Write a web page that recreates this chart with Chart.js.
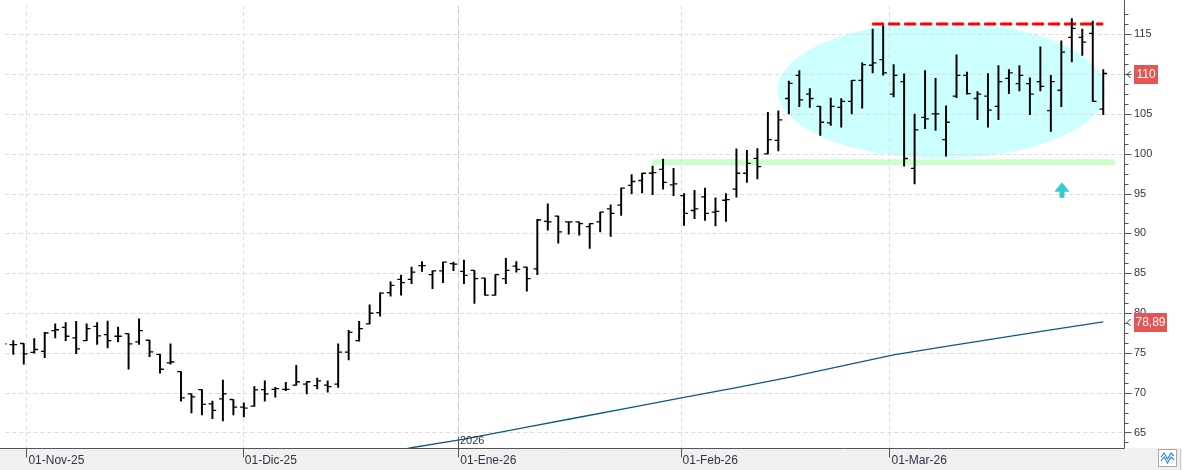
<!DOCTYPE html>
<html><head><meta charset="utf-8">
<script src="https://cdn.jsdelivr.net/npm/chart.js@4/dist/chart.umd.min.js"></script>
<style>html,body{margin:0;padding:0;background:#fff;overflow:hidden}#wrap{position:relative;width:1182px;height:470px}</style>
</head><body><div id="wrap"><canvas id="c" width="1182" height="470"></canvas></div>
<script>
// ---- data (one entry per trading session) ----
const opens = [76.3,76.04,76.17,75.05,75.17,77.78,78.19,76.87,76.54,78.32,
77.28,77.08,77.41,76.37,76.58,74.80,73.73,72.65,69.84,70.38,
68.60,69.22,69.14,68.19,68.31,70.38,70.42,70.42,70.95,71.08,
70.87,70.95,71.08,75.09,76.54,78.64,80.05,82.57,84.23,84.23,
85.96,84.81,85.30,86.21,85.22,85.34,84.39,82.24,84.31,85.88,
85.76,85.55,91.51,92.17,91.43,91.43,90.85,91.43,93.08,93.54,
96.02,96.64,97.55,98.04,96.10,94.74,92.87,94.57,92.67,94.16,
95.56,97.55,99.41,99.98,101.68,106.93,109.83,107.47,105.94,103.87,
105.81,106.56,109.21,111.11,111.81,107.47,109.04,98.16,104.57,104.99,
101.76,107.22,109.83,106.93,107.22,105.94,109.45,108.79,108.79,109.04,
105.40,107.97,114.62,114.62,115.12,105.61];
const highs = [76.6,76.54,76.17,76.79,77.57,78.65,78.81,78.94,78.65,78.81,
78.98,78.23,77.41,79.27,76.58,74.80,76.12,72.65,69.84,70.38,
68.93,71.58,69.14,68.72,70.75,71.49,70.67,71.29,73.44,71.37,
71.82,71.49,76.12,77.82,78.94,81.04,82.53,83.90,84.77,85.76,
86.46,85.30,86.38,86.38,86.63,85.34,84.39,84.81,86.87,86.46,
85.76,91.76,93.70,92.17,91.43,91.43,91.22,92.67,93.58,95.69,
97.38,97.55,98.46,99.33,98.17,94.98,95.40,95.69,94.45,94.98,
100.61,100.44,100.65,105.2,105.4,109.12,110.45,108.17,105.94,106.97,
106.93,109.21,111.40,115.66,116.07,111.19,110.03,104.99,110.45,109.45,
106.02,112.43,110.24,107.80,110.07,111.07,110.57,111.07,109.54,113.42,
109.83,114.17,116.98,115.66,116.65,110.57];
const lows = [75.6,74.80,73.56,74.97,74.39,76.87,76.54,74.88,76.54,76.04,
75.63,76.37,72.94,76.04,74.51,72.44,73.56,68.93,67.44,67.19,
66.74,66.45,67.19,66.94,68.31,68.93,69.43,70.25,70.95,69.84,
70.46,70.05,70.67,74.10,76.46,78.64,79.60,82.12,82.24,83.69,
85.22,83.07,83.81,85.30,83.69,81.21,82.24,82.24,83.69,85.14,
82.74,84.81,90.39,88.78,89.90,89.77,88.12,90.19,89.61,92.25,
94.98,95.07,94.86,95.56,94.74,91.01,91.84,91.63,90.93,91.51,
94.53,96.39,96.84,99.98,100.35,104.99,105.90,105.81,102.30,103.54,
103.33,104.99,105.73,110.16,109.87,107.13,98.45,96.22,103.13,102.92,
99.69,107.05,107.47,104.28,103.33,104.28,107.55,107.88,104.90,107.88,
102.80,105.90,111.52,112.35,106.56,104.90];
const closes = [76.12,76.04,74.88,75.42,77.49,77.90,77.08,75.50,78.03,77.12,
76.54,77.08,76.12,77.78,75.13,72.94,73.85,69.34,69.47,68.52,
67.77,69.84,68.19,68.06,70.34,69.84,70.50,70.42,71.37,71.37,
71.49,70.75,75.09,77.57,78.03,79.97,82.49,83.48,83.81,85.14,
85.96,85.30,86.38,86.13,84.72,84.31,82.24,84.81,85.34,85.47,
84.31,91.68,91.43,90.19,91.43,91.22,91.22,92.67,92.50,95.69,
96.51,97.55,97.63,96.39,96.22,92.50,93.08,92.50,92.75,94.24,
97.55,98.79,98.38,101.76,104.24,108.83,106.76,106.93,103.95,105.94,
106.56,109.21,111.19,111.40,110.16,109.83,99.40,103.00,104.37,104.99,
103.95,109.83,107.55,107.47,105.48,109.04,110.16,109.83,107.47,108.46,
109.04,112.76,115.74,114.00,106.56,110.07];

// moving average line, read at these sessions
const maIndex  = [38, 39, 44, 50, 55, 60, 65, 70, 75, 80, 85, 90, 95, 100, 105];
const maValues = [62.84, 63.08, 64.17, 65.67, 66.91, 68.15, 69.40, 70.62, 71.92, 73.34, 74.74, 75.81, 76.85, 77.88, 78.89];

// axis ticks
const dateTickIndex  = [2.30, 22.95, 43.51, 64.72, 84.65];
const dateTickLabels = ['01-Nov-25', '01-Dic-25', '01-Ene-26', '01-Feb-26', '01-Mar-26'];
const yearTickPos = 2;          // which date tick carries the year separator
const yearLabel = '2026';
const priceTicks = [65, 70, 75, 80, 85, 90, 95, 100, 105, 110, 115];

// drawn studies (in session / price units)
const zoneCenter = [89.55, 107.97];     // session, price
const zoneHalf   = [15.62, 8.56];
const supportBand = [98.55, 99.30];
const supportSpan = [61.97, 106.13];
const resistanceLevel = 116.3;
const resistanceSpan = [82.95, 105.0];
const arrowTip = [101.06, 96.43];
const lastLabel = '110';
const maLabel = '78,89';

// ---- build datasets from the arrays ----
const hl = highs.map((h, i) => ({x: i, y: [lows[i], h]}));
const TICK = 0.18;
const openPts = opens.map((o, i) => ({x: i - TICK, y: o}));
const closePts = closes.map((c, i) => ({x: i + TICK, y: c}));
const maPts = maIndex.map((x, k) => ({x, y: maValues[k]}));

const AX = '#555555';
const noPad = s => { s.paddingTop = 0; s.paddingBottom = 0; s.paddingLeft = 0; s.paddingRight = 0; };
const decor = {
  id: 'decor',
  beforeDraw(chart) {
    const {ctx, width, height} = chart;
    const xs = chart.scales.x;
    ctx.save();
    ctx.fillStyle = '#ffffff'; ctx.fillRect(0, 0, width, height);
    ctx.fillStyle = '#f0f0f0'; ctx.fillRect(0, xs.top, width, height - xs.top);
    ctx.restore();
  },
  beforeDatasetsDraw(chart) {
    const {ctx, chartArea: a} = chart;
    const xs = chart.scales.x, ys = chart.scales.y;
    ctx.save();
    ctx.beginPath(); ctx.rect(a.left, a.top, a.right - a.left, a.bottom - a.top); ctx.clip();
    // zone ellipse
    const cx = xs.getPixelForValue(zoneCenter[0]), cy = ys.getPixelForValue(zoneCenter[1]);
    const rx = xs.getPixelForValue(zoneCenter[0] + zoneHalf[0]) - cx;
    const ry = ys.getPixelForValue(zoneCenter[1] - zoneHalf[1]) - cy;
    ctx.fillStyle = '#ccffff';
    ctx.beginPath(); ctx.ellipse(cx, cy, rx, ry, 0, 0, Math.PI * 2); ctx.fill();
    // support band
    const sx1 = xs.getPixelForValue(supportSpan[0]), sx2 = xs.getPixelForValue(supportSpan[1]);
    const sy1 = ys.getPixelForValue(supportBand[1]), sy2 = ys.getPixelForValue(supportBand[0]);
    ctx.fillStyle = '#ccffcc';
    ctx.fillRect(sx1, sy1, sx2 - sx1, sy2 - sy1);
    // horizontal grid
    ctx.lineWidth = 1;
    ctx.strokeStyle = '#dcdcdc'; ctx.setLineDash([4, 3]);
    priceTicks.forEach(v => {
      const y = Math.round(ys.getPixelForValue(v)) + 0.5;
      ctx.beginPath(); ctx.moveTo(a.left, y); ctx.lineTo(a.right, y); ctx.stroke();
    });
    // vertical grid
    dateTickIndex.forEach((v, k) => {
      const x = Math.floor(xs.getPixelForValue(v)) + 0.5;
      if (k === yearTickPos) { ctx.strokeStyle = '#cccccc'; ctx.setLineDash([9, 3]); }
      else { ctx.strokeStyle = '#dcdcdc'; ctx.setLineDash([4, 3]); }
      ctx.beginPath(); ctx.moveTo(x, a.top); ctx.lineTo(x, a.bottom); ctx.stroke();
    });
    // resistance dashed line
    ctx.setLineDash([12, 4]);
    ctx.strokeStyle = '#ff0000'; ctx.lineWidth = 3;
    const ry0 = ys.getPixelForValue(resistanceLevel);
    ctx.beginPath();
    ctx.moveTo(xs.getPixelForValue(resistanceSpan[0]), ry0);
    ctx.lineTo(xs.getPixelForValue(resistanceSpan[1]), ry0);
    ctx.stroke();
    ctx.restore();
  },
  afterDraw(chart) {
    const {ctx, chartArea: a} = chart;
    const xs = chart.scales.x, ys = chart.scales.y;
    ctx.save();
    // arrow
    const tx = xs.getPixelForValue(arrowTip[0]), ty = ys.getPixelForValue(arrowTip[1]);
    ctx.fillStyle = '#33cccc';
    ctx.beginPath();
    ctx.moveTo(tx, ty); ctx.lineTo(tx + 7.5, ty + 9.5); ctx.lineTo(tx + 2.5, ty + 9.5);
    ctx.lineTo(tx + 2.5, ty + 15.5); ctx.lineTo(tx - 2.5, ty + 15.5); ctx.lineTo(tx - 2.5, ty + 9.5);
    ctx.lineTo(tx - 7.5, ty + 9.5); ctx.closePath(); ctx.fill();
    // axis lines
    ctx.strokeStyle = AX; ctx.lineWidth = 1; ctx.setLineDash([]);
    const bx = Math.round(a.right) + 0.5, by = Math.round(a.bottom) + 0.5;
    ctx.beginPath(); ctx.moveTo(0, by); ctx.lineTo(bx, by); ctx.stroke();
    ctx.beginPath(); ctx.moveTo(bx, 0); ctx.lineTo(bx, by); ctx.stroke();
    // price ticks: major every 5, minor every 1.25
    for (let k = 0; k <= 48; k++) {
      const v = 60 + k * 1.25;
      const y = Math.round(ys.getPixelForValue(v)) + 0.5;
      if (y < a.top || y > a.bottom) continue;
      const len = (k % 4 === 0) ? 7 : 4;
      ctx.beginPath(); ctx.moveTo(bx, y); ctx.lineTo(bx + len, y); ctx.stroke();
    }
    // date ticks
    dateTickIndex.forEach(v => {
      const x = Math.floor(xs.getPixelForValue(v)) + 0.5;
      ctx.beginPath(); ctx.moveTo(x, by); ctx.lineTo(x, by + 9); ctx.stroke();
    });
    // year separator label
    const yx = Math.floor(xs.getPixelForValue(dateTickIndex[yearTickPos])) + 0.5;
    ctx.beginPath(); ctx.moveTo(yx, by - 12); ctx.lineTo(yx, by); ctx.stroke();
    ctx.fillStyle = '#333344';
    ctx.font = '11px "Liberation Sans", Arial, sans-serif';
    ctx.textAlign = 'left'; ctx.textBaseline = 'middle';
    ctx.fillText(yearLabel, yx + 1.5, by - 8);
    // price boxes
    const box = (val, text, w) => {
      const y = ys.getPixelForValue(val);
      ctx.fillStyle = '#e35656';
      ctx.fillRect(bx + 9.5, Math.round(y) - 9, w, 19);
      ctx.fillStyle = '#ffffff';
      ctx.font = '12px "Liberation Sans", Arial, sans-serif';
      ctx.textAlign = 'center'; ctx.textBaseline = 'middle';
      ctx.fillText(text, bx + 9.5 + w / 2, Math.round(y) + 1);
      ctx.strokeStyle = '#333333'; ctx.lineWidth = 1;
      ctx.beginPath(); ctx.moveTo(bx + 6, Math.round(y) - 3); ctx.lineTo(bx + 2.5, Math.round(y) + 0.5); ctx.lineTo(bx + 6, Math.round(y) + 4); ctx.stroke();
    };
    box(closes[closes.length - 1], lastLabel, 24);
    box(maValues[maValues.length - 1], maLabel, 33);
    // corner button
    ctx.fillStyle = '#ffffff'; ctx.strokeStyle = '#a8a8a8'; ctx.lineWidth = 1;
    ctx.fillRect(1158.5, 449.5, 18, 17); ctx.strokeRect(1158.5, 449.5, 18, 17);
    ctx.strokeStyle = '#3b86c8'; ctx.lineWidth = 1.2;
    ctx.beginPath(); ctx.moveTo(1161, 457); ctx.lineTo(1164, 453); ctx.lineTo(1167.5, 459); ctx.lineTo(1171, 453); ctx.lineTo(1174, 456); ctx.stroke();
    ctx.beginPath(); ctx.moveTo(1161, 461); ctx.lineTo(1164, 457); ctx.lineTo(1167.5, 463); ctx.lineTo(1171, 457); ctx.lineTo(1174, 460); ctx.stroke();
    ctx.strokeStyle = '#cfcfcf'; ctx.beginPath(); ctx.moveTo(1180.5, 449); ctx.lineTo(1180.5, 470); ctx.stroke();
    ctx.restore();
  }
};

new Chart(document.getElementById('c'), {
  type: 'bar',
  data: {
    datasets: [
      {type: 'line', data: maPts, borderColor: '#07598a', borderWidth: 1.3, pointRadius: 0, tension: 0, order: 4},
      {type: 'bar', data: hl, backgroundColor: '#000000', barThickness: 1.3, order: 3},
      {type: 'scatter', data: openPts, pointStyle: 'line', pointRadius: 1.9, pointBorderWidth: 1.3, pointBorderColor: '#000000', pointBackgroundColor: '#000000', order: 2},
      {type: 'scatter', data: closePts, pointStyle: 'line', pointRadius: 1.9, pointBorderWidth: 1.3, pointBorderColor: '#000000', pointBackgroundColor: '#000000', order: 1}
    ]
  },
  options: {
    responsive: false,
    animation: false,
    events: [],
    layout: {padding: 0},
    plugins: {legend: {display: false}, tooltip: {enabled: false}},
    scales: {
      x: {
        type: 'linear', min: 0.2374, max: 106.98, offset: false,
        grid: {display: false, offset: false, drawTicks: false},
        border: {display: false},
        afterBuildTicks: s => { s.ticks = dateTickIndex.map(v => ({value: v})); },
        afterFit: s => { s.height = 22; noPad(s); },
        ticks: {
          autoSkip: false, maxRotation: 0, minRotation: 0, align: 'start', padding: 5,
          labelOffset: 1.5,
          color: '#333344', font: {family: '"Liberation Sans", Arial, sans-serif', size: 12},
          callback: (v, i) => dateTickLabels[i]
        }
      },
      y: {
        type: 'linear', position: 'right', min: 63.05, max: 118.635,
        grid: {display: false, drawTicks: false},
        border: {display: false},
        afterBuildTicks: s => { s.ticks = priceTicks.map(v => ({value: v})); },
        afterFit: s => { s.width = 58; noPad(s); },
        ticks: {
          padding: 10, color: '#333344',
          font: {family: '"Liberation Sans", Arial, sans-serif', size: 11},
          callback: v => String(v)
        }
      }
    }
  },
  plugins: [decor]
});
</script></body></html>
